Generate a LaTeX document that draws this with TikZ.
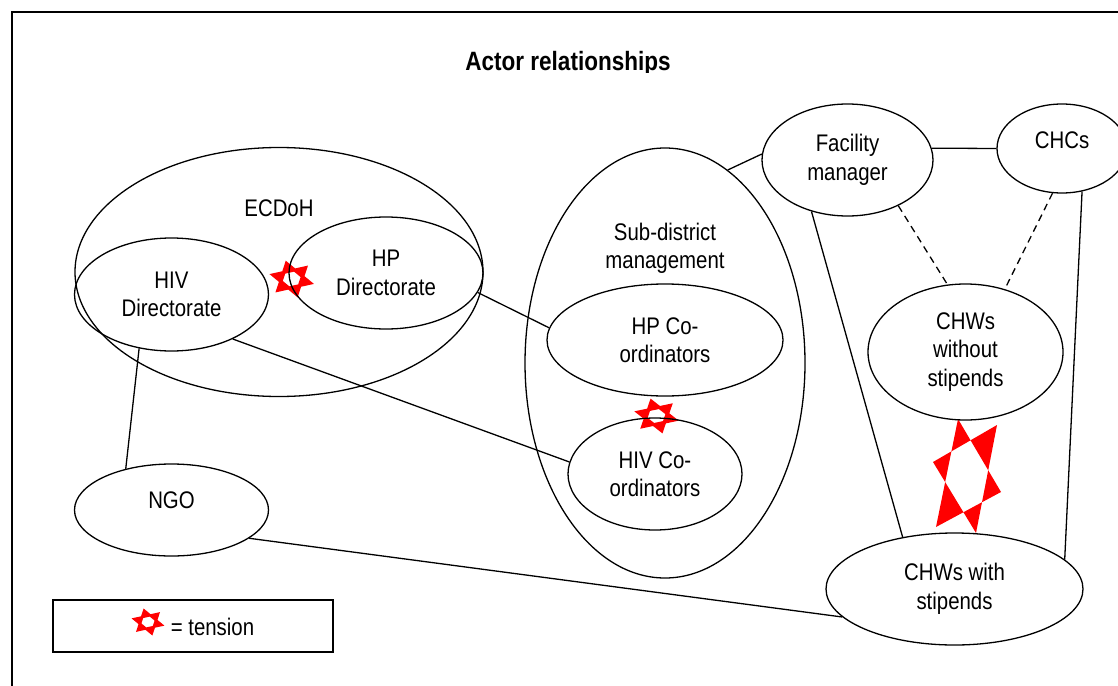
\documentclass[tikz,border=0pt]{standalone}
\usepackage{fontspec}
\setmainfont[FakeStretch=0.85]{Liberation Sans}
\usetikzlibrary{shapes.geometric}
\begin{document}
\begin{tikzpicture}[x=1pt,y=-1pt,
  ell/.style={draw, ellipse, line width=1.3pt, inner sep=0pt, align=center,
    font=\fontsize{24}{28.5}\selectfont},
  conn/.style={line width=1.3pt},
  dconn/.style={line width=1.3pt, dash pattern=on 7pt off 5pt},
  lbl/.style={align=center, font=\fontsize{24}{28.5}\selectfont, inner sep=0pt},
  hexstar/.pic={\fill[red, even odd rule] (105:1) -- (135:.577) -- (165:1) -- (195:.577) -- (225:1) -- (255:.577)
     -- (285:1) -- (315:.577) -- (345:1) -- (15:.577) -- (45:1) -- (75:.577) -- cycle
     (135:.4) -- (195:.4) -- (255:.4) -- (315:.4) -- (15:.4) -- (75:.4) -- cycle;}
]
\useasboundingbox (0,0) rectangle (1118,685);
% frame
\draw[line width=1.5pt] (12,700) -- (12,12) -- (1130,12);
% title
\begin{scope}
\clip (300,20) rectangle (840,72);
\node[inner sep=0pt, font=\fontsize{26.5}{30}\selectfont\bfseries] (title) at (568,64) {Actor relationships};
\end{scope}

% tension stars (under the outlines)
\pic[xscale=23, yscale=-19] at (291.7,279) {hexstar};
\pic[xscale=23, yscale=-18] at (656.5,416) {hexstar};
\fill[red, even odd rule] (958,419) -- (1001,492) -- (936,527) -- cycle
  (997,425) -- (933,462) -- (976,533) -- cycle;

% ellipses
\node[ell, minimum width=408pt, minimum height=249pt] (ecdoh) at (279,272) {};
\node[lbl] (ecdohl) at (279,208) {ECDoH};
\node[ell, minimum width=194pt, minimum height=113pt] (hivd) at (171.5,294.5) {HIV\\Directorate};
\node[ell, minimum width=194pt, minimum height=112pt] (hpd) at (386,273) {HP\\Directorate};
\node[ell, minimum width=280pt, minimum height=430pt] (sub) at (665,363) {};
\node[lbl] (subl) at (665,248.5) {Sub-district\\management};
\node[ell, minimum width=236pt, minimum height=112pt] (hpc) at (665,340) {HP Co-\\ordinators};
\node[ell, minimum width=174pt, minimum height=112pt] (hivc) at (655,474) {HIV Co-\\ordinators};
\node[ell, minimum width=194pt, minimum height=92pt, label={[lbl, yshift=10pt]center:NGO}] (ngo) at (171.5,510) {};
\node[ell, minimum width=171pt, minimum height=112pt] (fm) at (847.5,160) {Facility\\manager};
\node[ell, minimum width=130pt, minimum height=89pt, label={[lbl, yshift=8pt]center:CHCs}] (chc) at (1062,148.5) {};
\node[ell, minimum width=195pt, minimum height=136pt] (chwo) at (965.5,352) {CHWs\\without\\stipends};
\node[ell, minimum width=257pt, minimum height=112pt] (chww) at (954.5,589) {CHWs with\\stipends};

% connectors
\draw[conn] (fm.8) -- (chc.180);
\draw[conn] (sub.72.4) -- (fm.176.7);
\draw[conn] (hpd.-12.3) -- (hpc.174.6);
\draw[conn] (hivd.-36.8) -- (hivc.172);
\draw[conn] (hivd.-121.9) -- (ngo.138.6);
\draw[conn] (ngo.-20.1) -- (chww.-166.7);
\draw[conn] (fm.-125.8) -- (chww.135.8);
\draw[conn] (chc.-65.8) -- (chww.15.8);
\draw[dconn] (fm.-42.4) -- (chwo.105.2);
\draw[dconn] (chc.-102.4) -- (chwo.58);

% legend
\node[draw, line width=1.3pt, minimum width=280pt, minimum height=52pt, inner sep=0pt] (legend) at (193,626) {};
\pic[xscale=17, yscale=-14] at (148,622) {hexstar};
\node[lbl] (legendt) at (212.5,627) {= tension};
\end{tikzpicture}
\end{document}
